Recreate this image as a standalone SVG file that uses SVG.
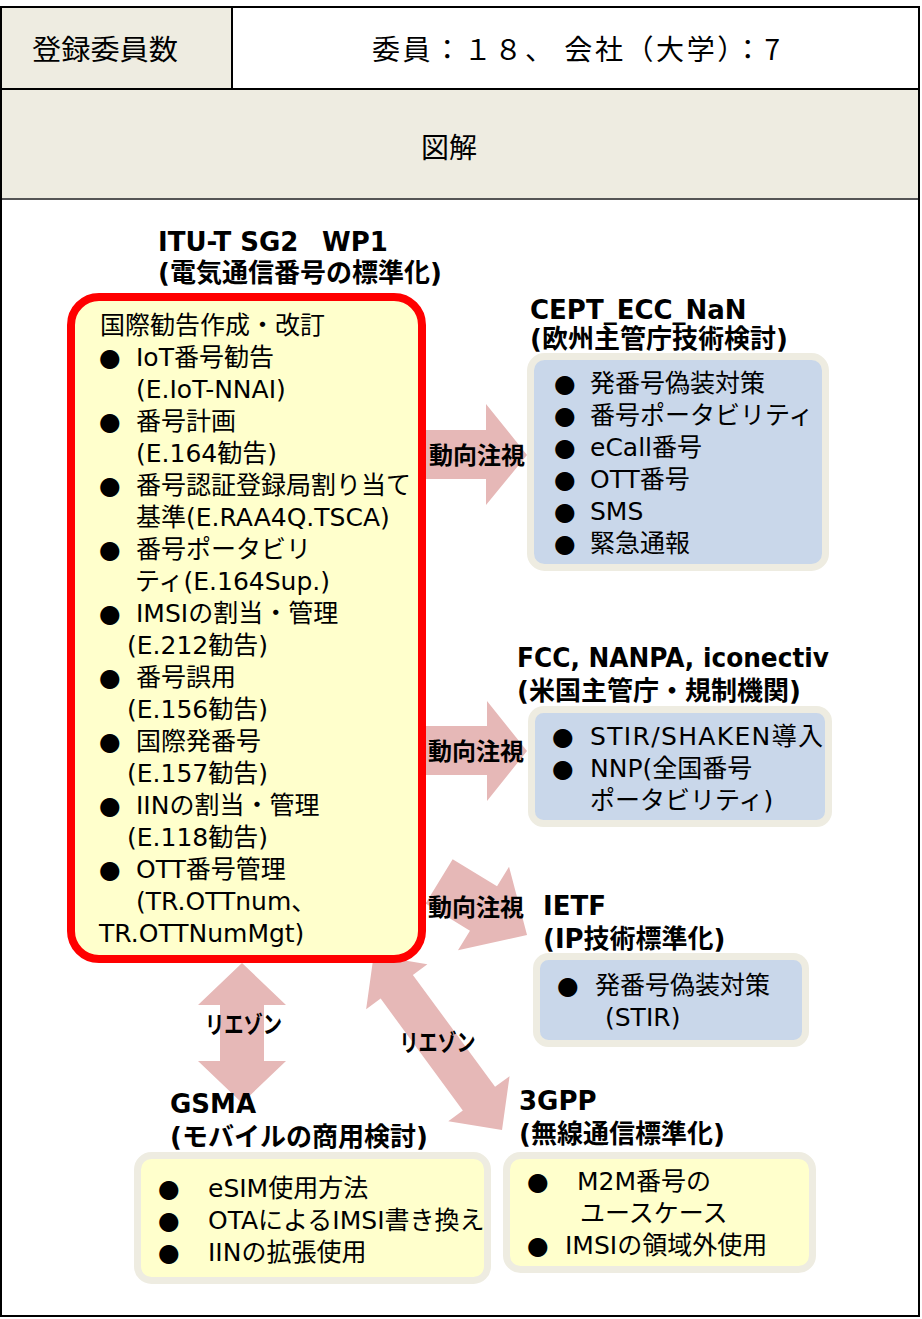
<svg xmlns="http://www.w3.org/2000/svg" width="922" height="1319" viewBox="0 0 922 1319">
<style>
.t{font-family:"DejaVu Sans","Noto Sans CJK JP",sans-serif;fill:#000}
.h{font-family:"Noto Sans CJK JP",sans-serif;font-size:28px;fill:#000}
.ttl{font-size:26px;font-weight:bold}
.b{font-size:25px}
.lab{font-family:"Noto Sans CJK JP",sans-serif;font-size:24px;font-weight:bold;fill:#000}
.arr{fill:#e6b8b7}
.beige{fill:#eeece1}
.frame{fill:#c9d7ea;stroke:#eeece1;stroke-width:7}
.frameY{fill:#ffffcc;stroke:#eeece1;stroke-width:7}
</style>
<rect x="0" y="0" width="922" height="1319" fill="#ffffff"/>
<g id="header">
<rect x="1" y="7" width="231" height="82" class="beige"/>
<rect x="232" y="7" width="687" height="82" fill="#ffffff"/>
<rect x="1" y="89" width="918" height="110" class="beige"/>
<line x1="1" y1="199" x2="919" y2="199" stroke="#555" stroke-width="2"/>
<line x1="1" y1="89" x2="919" y2="89" stroke="#000" stroke-width="2"/>
<line x1="232" y1="7" x2="232" y2="89" stroke="#000" stroke-width="2"/>
<rect x="1" y="7" width="918" height="1309" fill="none" stroke="#000" stroke-width="2"/>
<text class="h" x="32" y="60" textLength="146" lengthAdjust="spacingAndGlyphs">登録委員数</text>
<text class="h" x="372" y="60" textLength="408">委員：１８、 会社（大学）：7</text>
<text class="h" x="449" y="158" text-anchor="middle">図解</text>
</g>
<g id="connectors">
<polygon class="arr" points="420,430 486,430 486,404 527,455 486,505 486,479 420,479"/>
<text class="lab" x="477" y="464" text-anchor="middle">動向注視</text>
<polygon class="arr" points="420,726 487,726 487,701 527,751 487,801 487,775 420,775"/>
<text class="lab" x="476" y="760" text-anchor="middle">動向注視</text>
<polygon class="arr" transform="translate(483.5,908.5) rotate(31.4)" points="-52,-26 0,-26 0,-49 51,0 0,49 0,26 -52,26"/>
<text class="lab" x="476" y="916" text-anchor="middle">動向注視</text>
<polygon class="arr" points="242,963 286,1005 264,1005 264,1061 286,1061 242,1103 198,1061 220,1061 220,1005 198,1005"/>
<text class="lab" x="243.5" y="1033" text-anchor="middle" textLength="77" lengthAdjust="spacingAndGlyphs">リエゾン</text>
<polygon class="arr" transform="translate(437.85,1042.7) rotate(53.7)" points="-108.4,0 -69.4,-38 -69.4,-20 69.4,-20 69.4,-38 108.4,0 69.4,38 69.4,20 -69.4,20 -69.4,38"/>
<text class="lab" x="437.5" y="1051" text-anchor="middle" textLength="76" lengthAdjust="spacingAndGlyphs">リエゾン</text>
</g>
<g id="itu">
<text class="t ttl" x="158" y="251">ITU-T SG2<tspan x="322">WP1</tspan></text>
<text class="t ttl" x="158" y="282">(電気通信番号の標準化)</text>
<rect x="71" y="297" width="351" height="662" rx="28" fill="#ffffcc" stroke="#ff0000" stroke-width="8"/>
<g class="t b">
<text x="100" y="334">国際勧告作成・改訂</text>
<text x="110" y="366" text-anchor="middle">●</text><text x="136" y="366">IoT番号勧告</text>
<text x="136" y="398">(E.IoT-NNAI)</text>
<text x="110" y="430" text-anchor="middle">●</text><text x="136" y="430">番号計画</text>
<text x="136" y="462">(E.164勧告)</text>
<text x="110" y="494" text-anchor="middle">●</text><text x="136" y="494">番号認証登録局割り当て</text>
<text x="136" y="526">基準(E.RAA4Q.TSCA)</text>
<text x="110" y="558" text-anchor="middle">●</text><text x="136" y="558">番号ポータビリ</text>
<text x="135" y="590">ティ(E.164Sup.)</text>
<text x="110" y="622" text-anchor="middle">●</text><text x="136" y="622">IMSIの割当・管理</text>
<text x="127" y="654">(E.212勧告)</text>
<text x="110" y="686" text-anchor="middle">●</text><text x="136" y="686">番号誤用</text>
<text x="127" y="718">(E.156勧告)</text>
<text x="110" y="750" text-anchor="middle">●</text><text x="136" y="750">国際発番号</text>
<text x="127" y="782">(E.157勧告)</text>
<text x="110" y="814" text-anchor="middle">●</text><text x="136" y="814">IINの割当・管理</text>
<text x="127" y="846">(E.118勧告)</text>
<text x="110" y="878" text-anchor="middle">●</text><text x="136" y="878">OTT番号管理</text>
<text x="136" y="910">(TR.OTTnum、</text>
<text x="99" y="942">TR.OTTNumMgt)</text>
</g>
</g>
<g id="cept">
<text class="t ttl" x="530" y="319">CEPT_ECC_NaN</text>
<text class="t ttl" x="530" y="348">(欧州主管庁技術検討)</text>
<rect x="530.5" y="356.5" width="295" height="211" rx="14" class="frame"/>
<g class="t b">
<text x="565" y="392" text-anchor="middle">●</text><text x="590" y="392">発番号偽装対策</text>
<text x="565" y="424" text-anchor="middle">●</text><text x="590" y="424">番号ポータビリティ</text>
<text x="565" y="456" text-anchor="middle">●</text><text x="590" y="456">eCall番号</text>
<text x="565" y="488" text-anchor="middle">●</text><text x="590" y="488">OTT番号</text>
<text x="565" y="520" text-anchor="middle">●</text><text x="590" y="520">SMS</text>
<text x="565" y="552" text-anchor="middle">●</text><text x="590" y="552">緊急通報</text>
</g>
</g>
<g id="fcc">
<text class="t ttl" x="517" y="667" textLength="312" lengthAdjust="spacingAndGlyphs">FCC, NANPA, iconectiv</text>
<text class="t ttl" x="517" y="700">(米国主管庁・規制機関)</text>
<rect x="531.5" y="709.5" width="297" height="114" rx="12" class="frame"/>
<g class="t b">
<text x="563" y="745" text-anchor="middle">●</text><text x="590" y="745" textLength="233">STIR/SHAKEN導入</text>
<text x="563" y="777" text-anchor="middle">●</text><text x="590" y="777">NNP(全国番号</text>
<text x="590" y="809">ポータビリティ)</text>
</g>
</g>
<g id="ietf">
<text class="t ttl" x="543" y="915">IETF</text>
<text class="t ttl" x="543" y="948">(IP技術標準化)</text>
<rect x="536.5" y="956.5" width="269" height="87" rx="12" class="frame"/>
<g class="t b">
<text x="568" y="994" text-anchor="middle">●</text><text x="595" y="994">発番号偽装対策</text>
<text x="605" y="1026">(STIR)</text>
</g>
</g>
<g id="gsma">
<text class="t ttl" x="170" y="1113">GSMA</text>
<text class="t ttl" x="170" y="1146">(モバイルの商用検討)</text>
<rect x="137.5" y="1155.5" width="350" height="125" rx="14" class="frameY"/>
<g class="t b">
<text x="169" y="1197" text-anchor="middle">●</text><text x="208" y="1197">eSIM使用方法</text>
<text x="169" y="1229" text-anchor="middle">●</text><text x="208" y="1229">OTAによるIMSI書き換え</text>
<text x="169" y="1261" text-anchor="middle">●</text><text x="208" y="1261">IINの拡張使用</text>
</g>
</g>
<g id="3gpp">
<text class="t ttl" x="519" y="1110">3GPP</text>
<text class="t ttl" x="519" y="1143">(無線通信標準化)</text>
<rect x="506.5" y="1155.5" width="306" height="114" rx="14" class="frameY"/>
<g class="t b">
<text x="538" y="1190" text-anchor="middle">●</text><text x="577" y="1190">M2M番号の</text>
<text x="580" y="1222">ユースケース</text>
<text x="538" y="1254" text-anchor="middle">●</text><text x="565" y="1254">IMSIの領域外使用</text>
</g>
</g>
</svg>
